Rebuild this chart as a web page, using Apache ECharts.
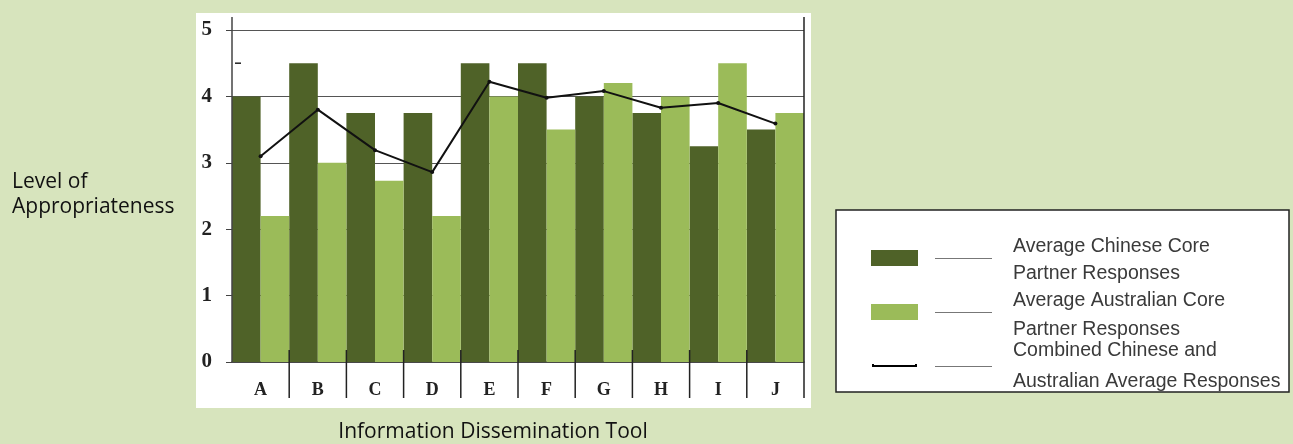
<!DOCTYPE html>
<html>
<head>
<meta charset="utf-8">
<title>Level of Appropriateness by Information Dissemination Tool</title>
<script src="https://cdn.jsdelivr.net/npm/echarts@6/dist/echarts.min.js"></script>
<style>
  html, body { margin: 0; padding: 0; background: #d7e4bd; }
  #chart { width: 1293px; height: 444px; }
</style>
</head>
<body>
<div id="chart"></div>
<script>
// Tools rated (A-J) and the average ratings for each group of respondents
const categories = ['A', 'B', 'C', 'D', 'E', 'F', 'G', 'H', 'I', 'J'];
const chineseAvg = [4, 4.5, 3.75, 3.75, 4.5, 4.5, 4, 3.75, 3.25, 3.5];
const australianAvg = [2.2, 3, 2.73, 2.2, 4, 3.5, 4.2, 4, 4.5, 3.75];
const combinedAvg = [3.1, 3.8, 3.19, 2.86, 4.22, 3.98, 4.08, 3.83, 3.9, 3.59];
const yTickValues = [0, 1, 2, 3, 4, 5];

const seriesNames = [
  'Average Chinese Core Partner Responses',
  'Average Australian Core Partner Responses',
  'Combined Chinese and Australian Average Responses'
];
const legendLines = [
  ['Average Chinese Core', 'Partner Responses'],
  ['Average Australian Core', 'Partner Responses'],
  ['Combined Chinese and', 'Australian Average Responses']
];
const yAxisTitle = ['Level of', 'Appropriateness'];
const xAxisTitle = 'Information Dissemination Tool';

const DARK = '#4f6228';
const LIGHT = '#9bbb59';
const AXIS = '#444';

const GRID = { left: 232, right: 489, top: 30, bottom: 82 };

const chart = echarts.init(document.getElementById('chart'), null, { renderer: 'canvas' });

const serifLabel = { fontFamily: 'Liberation Serif, DejaVu Serif, serif', fontWeight: 'bold', color: '#222' };
const titleFont = 'Open Sans, Lato, sans-serif';
const legendFont = 'Liberation Sans, Arial, sans-serif';

function legendGraphic() {
  const els = [];
  els.push({ type: 'rect', shape: { x: 836, y: 210, width: 453, height: 182 },
    style: { fill: '#fff', stroke: '#222', lineWidth: 1.5 } });
  const swatchY = [258, 312, 366];
  const textY = [[247, 274], [301, 330], [351, 382]];
  els.push({ type: 'rect', shape: { x: 871, y: swatchY[0] - 8, width: 47, height: 16 }, style: { fill: DARK } });
  els.push({ type: 'rect', shape: { x: 871, y: swatchY[1] - 8, width: 47, height: 16 }, style: { fill: LIGHT } });
  els.push({ type: 'line', shape: { x1: 872, y1: swatchY[2], x2: 917, y2: swatchY[2] }, style: { stroke: '#000', lineWidth: 2 } });
  els.push({ type: 'line', shape: { x1: 873, y1: swatchY[2] - 2, x2: 873, y2: swatchY[2] + 1 }, style: { stroke: '#000', lineWidth: 2 } });
  els.push({ type: 'line', shape: { x1: 916, y1: swatchY[2] - 2, x2: 916, y2: swatchY[2] + 1 }, style: { stroke: '#000', lineWidth: 2 } });
  swatchY.forEach(function (y, i) {
    els.push({ type: 'line', shape: { x1: 935, y1: y + 0.5, x2: 992, y2: y + 0.5 }, style: { stroke: '#777', lineWidth: 1 } });
    legendLines[i].forEach(function (t, j) {
      els.push({ type: 'text', x: 1013, y: textY[i][j],
        style: { text: t, fill: '#3a3a3a', font: '19.5px ' + legendFont, textVerticalAlign: 'middle', verticalAlign: 'middle' } });
    });
  });
  return els;
}

const option = {
  backgroundColor: '#d7e4bd',
  animation: false,
  grid: GRID,
  xAxis: {
    type: 'category',
    data: categories,
    boundaryGap: true,
    axisLine: { lineStyle: { color: AXIS, width: 1.5 } },
    axisTick: { alignWithLabel: true, length: 5, lineStyle: { color: '#666' } },
    axisLabel: Object.assign({ fontSize: 18, margin: 19 }, serifLabel),
    splitLine: { show: false }
  },
  yAxis: {
    type: 'value',
    min: 0,
    max: 5,
    interval: 1,
    axisLine: { show: false },
    axisTick: { show: true, length: 6, lineStyle: { color: AXIS } },
    axisLabel: Object.assign({ fontSize: 21, margin: 20,
      formatter: function (v) { return yTickValues.indexOf(v) >= 0 ? String(v) : ''; } }, serifLabel),
    splitLine: { show: true, lineStyle: { color: '#555', width: 1 } }
  },
  series: [
    { name: seriesNames[0], type: 'bar', data: chineseAvg, barGap: '0%', barCategoryGap: '0%',
      itemStyle: { color: DARK }, z: 2 },
    { name: seriesNames[1], type: 'bar', data: australianAvg, barGap: '0%', barCategoryGap: '0%',
      itemStyle: { color: LIGHT }, z: 2 },
    { name: seriesNames[2], type: 'line', data: combinedAvg, symbol: 'circle', symbolSize: 4,
      lineStyle: { color: '#111', width: 2 }, itemStyle: { color: '#111' }, z: 5 }
  ],
  graphic: []
};

chart.setOption(option);

// Frame, axis extensions, category dividers and titles, placed from the axis scales
const g = [];
g.push({ type: 'rect', z: -10, shape: { x: 196, y: 13, width: 615, height: 395 }, style: { fill: '#fff' } });
const topY = chart.convertToPixel({ yAxisIndex: 0 }, 5) - 13;
const zeroY = chart.convertToPixel({ yAxisIndex: 0 }, 0);
g.push({ type: 'line', z: 10, shape: { x1: GRID.left, y1: topY, x2: GRID.left, y2: zeroY }, style: { stroke: AXIS, lineWidth: 1.5 } });
const halfY = chart.convertToPixel({ yAxisIndex: 0 }, 4.5);
g.push({ type: 'line', z: 10, shape: { x1: GRID.left + 3, y1: halfY, x2: GRID.left + 9, y2: halfY }, style: { stroke: '#222', lineWidth: 1.5 } });
const band = chart.convertToPixel({ xAxisIndex: 0 }, categories[1]) - chart.convertToPixel({ xAxisIndex: 0 }, categories[0]);
categories.forEach(function (c, i) {
  const x = chart.convertToPixel({ xAxisIndex: 0 }, c) + band / 2;
  const y1 = i === categories.length - 1 ? topY : zeroY - 12;
  g.push({ type: 'line', z: 10, shape: { x1: x, y1: y1, x2: x, y2: zeroY + 36 }, style: { stroke: '#222', lineWidth: 1.5 } });
});
g.push({ type: 'text', x: 12, y: 182, style: { text: yAxisTitle[0], fill: '#111', font: '21px ' + titleFont, textVerticalAlign: 'middle', verticalAlign: 'middle' } });
g.push({ type: 'text', x: 12, y: 207, style: { text: yAxisTitle[1], fill: '#111', font: '21px ' + titleFont, textVerticalAlign: 'middle', verticalAlign: 'middle' } });
g.push({ type: 'text', x: 493, y: 432, style: { text: xAxisTitle, fill: '#111', font: '21px ' + titleFont, textAlign: 'center', align: 'center', textVerticalAlign: 'middle', verticalAlign: 'middle' } });
legendGraphic().forEach(function (e) { g.push(e); });

chart.setOption({ graphic: g });
</script>
</body>
</html>
